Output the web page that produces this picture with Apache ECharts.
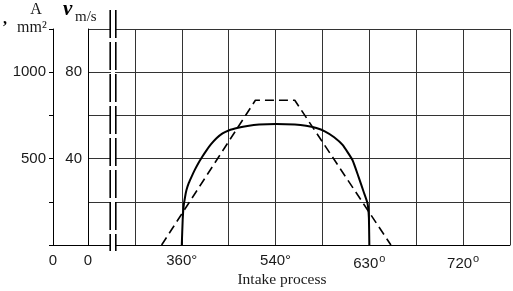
<!DOCTYPE html>
<html>
<head>
<meta charset="utf-8">
<script src="https://cdn.jsdelivr.net/npm/echarts@6/dist/echarts.min.js"></script>
<style>
  html, body { margin: 0; padding: 0; background: #fff; }
  #chart { width: 513px; height: 291px; }
</style>
</head>
<body>
<div id="chart"></div>
<script>
// x is measured in grid cells from the v axis
var tickIdx = [0, 2, 4, 6, 8];
var tickText = ['0', '360', '540', '630', '720'];
var aTicks = [500, 1000];
var vTicks = [40, 80];

// solid curve, A/mm2
var solidX = [2.00, 2.02, 2.04, 2.07, 2.10, 2.15, 2.21, 2.28, 2.35, 2.43, 2.52, 2.62, 2.74, 2.87, 3.00, 3.20, 3.40, 3.65, 4.01, 4.41, 4.65, 4.87, 5.05, 5.25, 5.43, 5.64, 5.77, 5.88, 5.96, 5.99, 6.00];
var solidA = [0, 150, 225, 278, 318, 359, 396, 436, 472, 508, 545, 582, 618, 646, 663, 678, 689, 697, 700, 697, 690, 677, 658, 624, 579, 492, 394, 307, 243, 160, 0];

// dashed curve, v m/s
var dashX = [1.57, 3.57, 4.41, 6.46];
var dashV = [0, 67, 67, 0];

function pairs(xs, ys) {
    var out = [];
    for (var i = 0; i < xs.length; i++) {
        out.push([xs[i], ys[i]]);
    }
    return out;
}

var numFont = 'Liberation Sans';
var serif = 'Liberation Serif';
var ink = '#1a1a1a';
var gridColor = '#333';

var myChart = echarts.init(document.getElementById('chart'));
var option = {
    backgroundColor: '#fff',
    animation: false,
    grid: [
        { left: 88, right: -4, top: 29, bottom: 46 },
        { left: 53, width: 35, top: 29, bottom: 46 }
    ],
    xAxis: [
        {
            gridIndex: 0,
            type: 'value',
            min: 0,
            max: 9,
            interval: 1,
            axisLine: { show: true, onZero: false, lineStyle: { color: '#000', width: 1 } },
            axisTick: { show: false },
            splitLine: { show: true, lineStyle: { color: gridColor, width: 1 } },
            axisLabel: {
                margin: 8,
                color: ink,
                fontFamily: numFont,
                fontSize: 15,
                formatter: function (v) {
                    var k = tickIdx.indexOf(v);
                    if (k < 0) return '';
                    if (k == 0) return tickText[k];
                    if (k < 3) return tickText[k] + '°';
                    return '{n|' + tickText[k] + '}{d|o}';
                },
                rich: {
                    n: { fontFamily: numFont, fontSize: 15, color: ink },
                    d: { fontFamily: numFont, fontSize: 11, color: ink, padding: [0, 0, 10, 1] }
                }
            }
        },
        {
            gridIndex: 1,
            type: 'value',
            min: 0,
            max: 1,
            interval: 1,
            axisLine: { show: true, onZero: false, lineStyle: { color: '#000', width: 1 } },
            axisTick: { show: false },
            splitLine: { show: false },
            axisLabel: {
                margin: 8,
                color: ink,
                fontFamily: numFont,
                fontSize: 15,
                formatter: function (v) { return v == 0 ? '0' : ''; }
            }
        }
    ],
    yAxis: [
        {
            gridIndex: 0,
            type: 'value',
            min: 0,
            max: 100,
            interval: 20,
            axisLine: { show: true, onZero: false, lineStyle: { color: '#000', width: 1 } },
            axisTick: { show: false },
            splitLine: { show: true, lineStyle: { color: gridColor, width: 1 } },
            axisLabel: {
                margin: 6,
                color: ink,
                fontFamily: numFont,
                fontSize: 15,
                formatter: function (v) { return vTicks.indexOf(v) >= 0 ? String(v) : ''; }
            }
        },
        {
            gridIndex: 1,
            type: 'value',
            min: 0,
            max: 1250,
            interval: 250,
            axisLine: { show: true, onZero: false, lineStyle: { color: '#000', width: 1 } },
            axisTick: { show: true, length: 4, lineStyle: { color: '#000' } },
            splitLine: { show: false },
            axisLabel: {
                margin: 7,
                color: ink,
                fontFamily: numFont,
                fontSize: 15,
                formatter: function (v) { return aTicks.indexOf(v) >= 0 ? String(v) : ''; }
            }
        },
        {
            gridIndex: 0,
            type: 'value',
            min: 0,
            max: 1250,
            show: false
        }
    ],
    series: [
        {
            name: 'A',
            type: 'line',
            xAxisIndex: 0,
            yAxisIndex: 2,
            data: pairs(solidX, solidA),
            showSymbol: false,
            smooth: 0.15,
            lineStyle: { color: '#000', width: 2 },
            z: 3
        },
        {
            name: 'v',
            type: 'line',
            xAxisIndex: 0,
            yAxisIndex: 0,
            data: pairs(dashX, dashV),
            showSymbol: false,
            lineStyle: { color: '#000', width: 1.6, type: [9, 5] },
            z: 3
        }
    ],
    graphic: [
        // axis break between the two scales
        { type: 'rect', shape: { x: 111, y: 6, width: 4, height: 248 }, style: { fill: '#fff' }, z: 10 },
        { type: 'line', shape: { x1: 110.2, y1: 10, x2: 110.2, y2: 251 }, style: { stroke: '#000', lineWidth: 1.6, lineDash: [28, 4] }, z: 11 },
        { type: 'line', shape: { x1: 115.8, y1: 10, x2: 115.8, y2: 251 }, style: { stroke: '#000', lineWidth: 1.6, lineDash: [28, 4] }, z: 11 },
        { type: 'text', style: { text: ',', x: 3, y: 12, font: 'bold 16px ' + serif, fill: '#000' } },
        { type: 'text', style: { text: 'A', x: 36, y: 2, font: '16px ' + serif, fill: ink, textAlign: 'center' } },
        { type: 'text', style: { text: 'mm²', x: 17, y: 20, font: '16px ' + serif, fill: ink } },
        { type: 'text', style: { text: 'v', x: 63, y: -1, font: 'bold italic 21px ' + serif, fill: '#000' } },
        { type: 'text', style: { text: 'm/s', x: 75, y: 10, font: '15px ' + serif, fill: ink } },
        { type: 'text', style: { text: 'Intake process', x: 282, y: 272, font: '15.5px ' + serif, fill: ink, textAlign: 'center' } }
    ]
};
myChart.setOption(option);
</script>
</body>
</html>
